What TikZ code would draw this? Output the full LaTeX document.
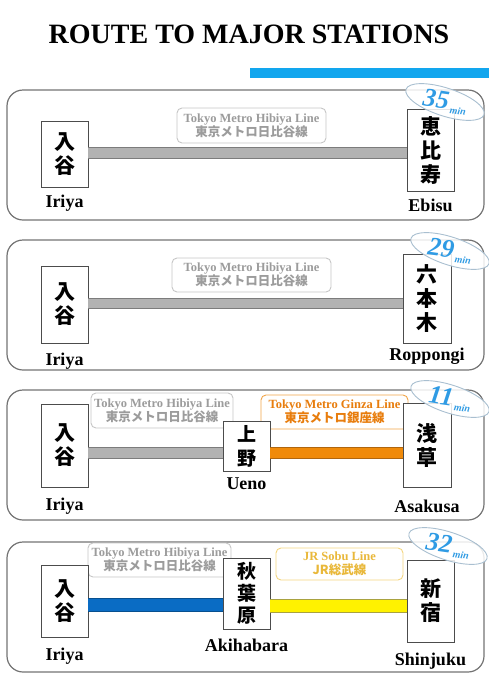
\documentclass[tikz,border=0pt]{standalone}
\usepackage{fontspec}
\setmainfont{Liberation Serif}
\newfontfamily\jpfont{Noto Sans CJK JP}
\usetikzlibrary{positioning,shapes.geometric}
\definecolor{skyblue}{HTML}{12A6EE}
\definecolor{timeblue}{HTML}{2F9BE4}
\definecolor{tagedge}{HTML}{A9BFD0}
\definecolor{hibfill}{HTML}{B2B2B2}
\definecolor{hibedge}{HTML}{7C7C7C}
\definecolor{hibtext}{HTML}{9C9C9C}
\definecolor{hibbox}{HTML}{C6C6C6}
\definecolor{ginfill}{HTML}{F08A0A}
\definecolor{ginedge}{HTML}{B0660E}
\definecolor{gintext}{HTML}{E87D0D}
\definecolor{ginbox}{HTML}{F2A548}
\definecolor{bluefill}{HTML}{0A6CC4}
\definecolor{blueedge}{HTML}{07508F}
\definecolor{yelfill}{HTML}{FFF200}
\definecolor{yeledge}{HTML}{A9A240}
\definecolor{jrtext}{HTML}{E9B83A}
\definecolor{jrbox}{HTML}{F4D680}

\begin{document}
\begin{tikzpicture}[x=1pt,y=-1pt,
	panel/.style={draw=black!55, line width=1.2pt, rounded corners=16pt},
	station/.style={draw=black!70, fill=white, line width=0.8pt, minimum width=47pt, inner sep=0pt, align=center, font=\jpfont\bfseries\fontsize{21}{24}\selectfont},
	stname/.style={inner sep=0pt, font=\bfseries\fontsize{18}{18}\selectfont},
	linebox/.style={draw=#1, fill=white, line width=0.9pt, rounded corners=5pt, inner sep=0pt, align=center, font=\bfseries\fontsize{12.5}{14}\selectfont},
	bar/.style={draw=#1, line width=1pt, double distance=10pt},
	timetag/.style={ellipse, draw=tagedge, fill=white, fill opacity=0.85, line width=0.9pt, minimum width=82pt, minimum height=28pt, inner sep=0pt, rotate=-18},
	timetext/.style={inner sep=0pt, rotate=-8, text=timeblue, font=\bfseries\itshape}]
	\useasboundingbox (0,0) rectangle (489,683);
	% heading and the blue rule under it
	\node[anchor=base, font=\bfseries\fontsize{28}{30}\selectfont] (title) at (249,43) {ROUTE TO MAJOR STATIONS};
	\fill[skyblue] (250,68) rectangle (489,78);
	% the four route panels
	\foreach \top in {90,240,390,542} {
		\draw[panel] (7,\top) rectangle ++(477,130);
	}
	% line labels
	\node[linebox=hibbox, text=hibtext, minimum width=149pt, minimum height=35pt] (hibA) at (251.5,125.5) {Tokyo Metro Hibiya Line\\{\jpfont 東京メトロ日比谷線}};
	\node[linebox=hibbox, text=hibtext, minimum width=159pt, minimum height=34pt] (hibB) at (251.5,275) {Tokyo Metro Hibiya Line\\{\jpfont 東京メトロ日比谷線}};
	\node[linebox=hibbox, text=hibtext, minimum width=142pt, minimum height=35pt] (hibC) at (162,410.5) {Tokyo Metro Hibiya Line\\{\jpfont 東京メトロ日比谷線}};
	\node[linebox=ginbox, text=gintext, minimum width=147pt, minimum height=34pt] (ginC) at (334.5,412) {Tokyo Metro Ginza Line\\{\jpfont 東京メトロ銀座線}};
	\node[linebox=hibbox, text=hibtext, minimum width=143pt, minimum height=34pt] (hibD) at (159.5,560) {Tokyo Metro Hibiya Line\\{\jpfont 東京メトロ日比谷線}};
	\node[linebox=jrbox, text=jrtext, minimum width=127pt, minimum height=32pt] (jrD) at (339.5,564) {JR Sobu Line\\{\jpfont JR総武線}};
	% stations
	\node[station, minimum height=66pt] (iriyaA) at (64.5,154) {入\\谷};
	\node[station, minimum height=82pt] (ebisu) at (430.5,150) {恵\\比\\寿};
	\node[station, minimum height=77pt] (iriyaB) at (64.5,304.5) {入\\谷};
	\node[station, minimum height=89pt, minimum width=48pt] (roppongi) at (427,298.5) {六\\本\\木};
	\node[station, minimum height=83pt] (iriyaC) at (64.5,445.5) {入\\谷};
	\node[station, minimum height=50pt, font=\jpfont\bfseries\fontsize{19}{24}\selectfont] (ueno) at (246.5,446) {上\\野};
	\node[station, minimum height=84pt, minimum width=48pt] (asakusa) at (427,445) {浅\\草};
	\node[station, minimum height=72pt] (iriyaD) at (64.5,601) {入\\谷};
	\node[station, minimum height=71pt, font=\jpfont\bfseries\fontsize{19}{22}\selectfont] (akihabara) at (246.5,593.5) {秋\\葉\\原};
	\node[station, minimum height=82pt] (shinjuku) at (430.5,601) {新\\宿};
	% station names
	\node[stname, below=7pt of iriyaA] (iriyaAname) {Iriya};
	\node[stname, below=7pt of ebisu] (ebisuname) {Ebisu};
	\node[stname, below=9pt of iriyaB] (iriyaBname) {Iriya};
	\node[stname, below=4pt of roppongi] (ropponginame) {Roppongi};
	\node[stname, below=10pt of iriyaC] (iriyaCname) {Iriya};
	\node[stname, below=6pt of ueno] (uenoname) {Ueno};
	\node[stname, below=12pt of asakusa] (asakusaname) {Asakusa};
	\node[stname, below=10pt of iriyaD] (iriyaDname) {Iriya};
	\node[stname, below=9pt of akihabara] (akihabaraname) {Akihabara};
	\node[stname, below=10pt of shinjuku] (shinjukuname) {Shinjuku};
	% rail lines
	\draw[bar=hibedge, double=hibfill] (iriyaA.east |- 0,153) -- (ebisu.west |- 0,153);
	\draw[bar=hibedge, double=hibfill, double distance=9pt] (iriyaB.east |- 0,303.5) -- (roppongi.west |- 0,303.5);
	\draw[bar=hibedge, double=hibfill] (iriyaC.east |- 0,453) -- (ueno.west |- 0,453);
	\draw[bar=ginedge, double=ginfill] (ueno.east |- 0,453) -- (asakusa.west |- 0,453);
	\draw[bar=blueedge, double=bluefill, double distance=12pt] (iriyaD.east |- 0,605) -- (akihabara.west |- 0,605);
	\draw[bar=yeledge, double=yelfill, double distance=12pt] (akihabara.east |- 0,606) -- (shinjuku.west |- 0,606);
	% travel times
	\node[timetag] (tagA) at (445,102) {};
	\node[timetag] (tagB) at (450,251) {};
	\node[timetag] (tagC) at (450,399) {};
	\node[timetag] (tagD) at (448,546) {};
	\node[timetext] (timeA) at (tagA) {{\fontsize{26}{26}\selectfont 35}\kern2pt\raisebox{-4pt}{\fontsize{10}{10}\selectfont min}};
	\node[timetext] (timeB) at (tagB) {{\fontsize{26}{26}\selectfont 29}\kern2pt\raisebox{-4pt}{\fontsize{10}{10}\selectfont min}};
	\node[timetext] (timeC) at (tagC) {{\fontsize{26}{26}\selectfont 11}\kern2pt\raisebox{-4pt}{\fontsize{10}{10}\selectfont min}};
	\node[timetext] (timeD) at (tagD) {{\fontsize{26}{26}\selectfont 32}\kern2pt\raisebox{-4pt}{\fontsize{10}{10}\selectfont min}};
\end{tikzpicture}
\end{document}
